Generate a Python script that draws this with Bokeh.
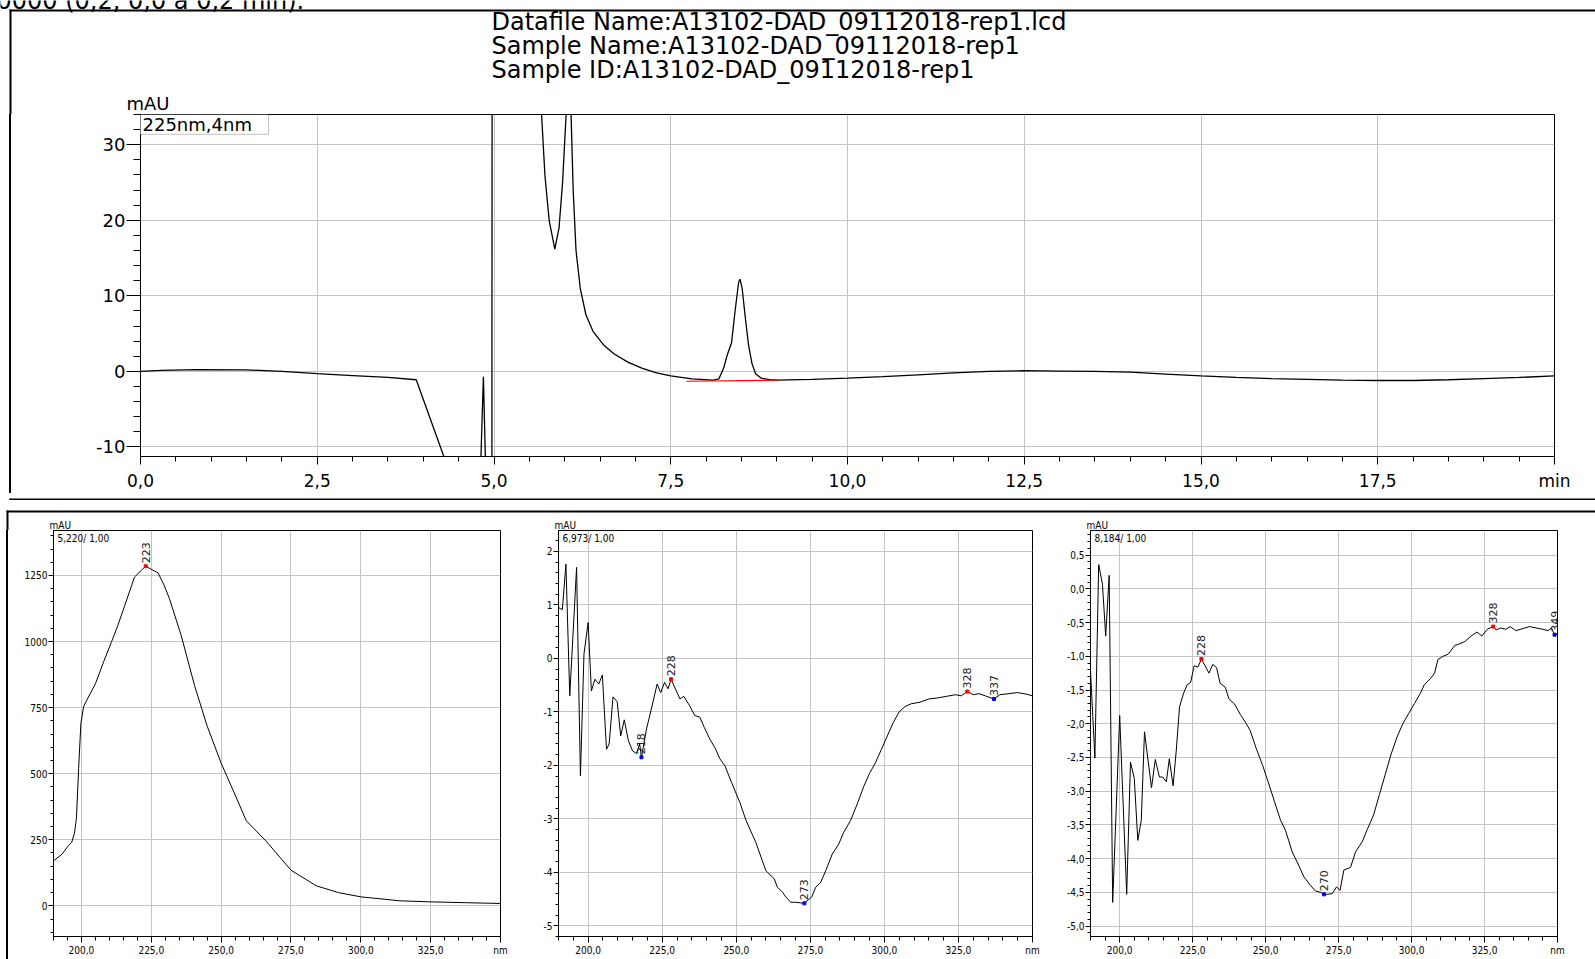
from math import pi
from bokeh.plotting import figure
from bokeh.layouts import column, row
from bokeh.models import Range1d, FixedTicker, CustomJSTickFormatter, Label, PolyAnnotation, Div
from bokeh.core.properties import value
from bokeh.embed import file_html
from bokeh.resources import INLINE

# ---------------- data: chromatogram (225 nm, 4 nm) ----------------
time_min = [0.0, 0.3, 0.8, 1.5, 2.0, 2.5, 3.0, 3.5, 3.9, 4.3,
            4.5, 4.80, 4.85, 4.89, 4.97, 4.995, 5.3, 5.62, 5.67, 5.72,
            5.78, 5.86, 5.92, 5.97, 6.02, 6.055, 6.09, 6.12, 6.16, 6.22,
            6.30, 6.40, 6.55, 6.70, 6.90, 7.10, 7.30, 7.50, 7.80, 8.10,
            8.18, 8.25, 8.30, 8.36, 8.41, 8.46, 8.48, 8.51, 8.55, 8.60,
            8.65, 8.70, 8.78, 8.90, 9.00, 9.50, 10.0, 10.5, 11.0, 11.5,
            12.0, 12.5, 13.0, 13.5, 14.0, 14.5, 15.0, 15.5, 16.0, 16.5,
            17.0, 17.5, 18.0, 18.5, 19.0, 19.5, 20.0]
signal_mau = [0.0, 0.15, 0.25, 0.2, 0.0, -0.3, -0.55, -0.8, -1.1, -11.5,
              -16, -16, -0.7, -16, -16, 400, 400, 45, 34.5, 26,
              20, 16.2, 19, 25, 34, 60, 34, 24, 16, 11,
              7.5, 5.3, 3.5, 2.3, 1.2, 0.4, -0.2, -0.6, -1.0, -1.15,
              -1.0, 0.5, 2.2, 3.8, 8.0, 11.8, 12.2, 11.0, 7.5, 3.5,
              1.0, -0.3, -0.9, -1.1, -1.15, -1.05, -0.9, -0.7, -0.45, -0.2,
              0.0, 0.1, 0.05, 0.0, -0.1, -0.35, -0.6, -0.8, -0.95, -1.05,
              -1.15, -1.2, -1.2, -1.1, -0.95, -0.8, -0.6]
baseline_min = [7.72, 9.02]
baseline_mau = [-1.30, -1.15]

top_x_major = [0, 2.5, 5, 7.5, 10, 12.5, 15, 17.5, 20]
top_x_minor = [i * 0.5 for i in range(41)]
top_y_major = [-10, 0, 10, 20, 30]
top_y_minor = list(range(-10, 35, 2))

# ---------------- data: spectra ----------------
nm1 = [190.0, 193.0, 195.3, 196.5, 197.5, 198.2, 199.0, 199.8, 200.8, 202.5,
       205.0, 208.0, 210.7, 213.0, 215.5, 219.0, 221.4, 223.0, 225.0, 227.4,
       229.5, 231.5, 235.7, 240.5, 245.0, 250.0, 255.0, 259.0, 266.0, 275.0,
       284.0, 292.0, 300.0, 314.0, 325.0, 337.0, 350.0]
mau1 = [170, 195, 227, 240, 275, 330, 520, 690, 755, 790,
        840, 925, 997, 1060, 1136, 1244, 1269, 1285, 1273, 1260,
        1215, 1162, 1023, 833, 680, 540, 420, 322, 246, 135,
        76, 50, 34, 19, 15, 12, 9]
peak_nm1 = [223]
peak_mau1 = [1285]
peak_txt1 = ["223"]
peak_col1 = ["red"]

nm2 = [190.0, 191.3, 192.5, 193.8, 196.1, 197.4, 198.6, 200.0, 201.1, 202.3,
       203.6, 204.8, 206.2, 207.1, 208.4, 209.8, 211.0, 212.2, 213.6, 215.0,
       216.3, 217.4, 218.0, 219.7, 221.2, 223.3, 224.5, 225.8, 227.0, 228.0,
       231.0, 232.3, 234.3, 236.0, 237.7, 239.2, 241.1, 242.8, 244.5, 246.2,
       248.4, 251.2, 253.3, 256.6, 260.0, 262.8, 263.9, 265.6, 266.7, 268.4,
       270.1, 273.0, 274.2, 275.5, 276.8, 278.5, 280.2, 282.4, 284.6, 286.3,
       288.6, 291.0, 293.0, 295.0, 297.0, 299.0, 301.0, 303.0, 305.0, 307.0,
       309.0, 312.0, 315.0, 318.0, 321.0, 324.0, 326.0, 328.0, 330.0, 332.0,
       334.0, 337.0, 339.0, 342.0, 345.0, 348.0, 350.0]
mau2 = [0.95, 0.91, 1.76, -0.70, 1.70, -2.20, 0.08, 0.67, -0.61, -0.39,
        -0.48, -0.31, -1.70, -1.60, -0.72, -0.81, -1.45, -1.15, -1.54, -1.73,
        -1.78, -1.60, -1.85, -1.32, -0.98, -0.48, -0.64, -0.45, -0.57, -0.39,
        -0.76, -0.71, -0.89, -1.07, -1.10, -1.29, -1.51, -1.67, -1.88, -2.01,
        -2.32, -2.69, -3.03, -3.44, -3.97, -4.12, -4.28, -4.37, -4.46, -4.56,
        -4.56, -4.58, -4.52, -4.46, -4.28, -4.19, -3.97, -3.66, -3.47, -3.25,
        -3.03, -2.70, -2.40, -2.15, -1.95, -1.70, -1.45, -1.20, -1.00, -0.90,
        -0.85, -0.82, -0.76, -0.74, -0.71, -0.68, -0.70, -0.62, -0.68, -0.66,
        -0.70, -0.76, -0.68, -0.66, -0.64, -0.67, -0.70]
peak_nm2 = [218.0, 228.0, 273.0, 328.0, 337.0]
peak_mau2 = [-1.85, -0.39, -4.58, -0.62, -0.76]
peak_txt2 = ["218", "228", "273", "328", "337"]
peak_col2 = ["blue", "red", "blue", "red", "blue"]

nm3 = [190.0, 191.5, 192.8, 194.1, 195.2, 196.4, 197.6, 200.0, 202.4, 203.7,
       205.0, 206.2, 207.4, 208.5, 210.9, 212.2, 213.6, 214.7, 216.0, 217.0,
       218.3, 219.4, 220.5, 221.8, 223.1, 224.3, 225.5, 226.8, 228.0, 229.5,
       230.6, 231.9, 233.2, 234.4, 236.2, 237.4, 239.4, 241.3, 243.1, 244.7,
       246.8, 249.0, 251.0, 253.0, 255.1, 256.8, 259.1, 260.8, 263.1, 265.4,
       267.1, 268.8, 270.0, 271.1, 272.8, 274.3, 275.5, 276.8, 279.1, 280.8,
       283.1, 284.8, 287.0, 289.0, 291.0, 293.0, 295.0, 297.0, 299.0, 301.0,
       303.0, 304.4, 306.5, 307.9, 309.0, 310.8, 312.5, 314.8, 316.2, 318.3,
       320.1, 322.4, 324.1, 325.9, 328.0, 329.0, 330.5, 332.3, 333.8, 335.7,
       338.1, 340.4, 342.7, 345.0, 346.8, 347.9, 349.0, 350.0]
mau3 = [-1.21, -2.51, 0.36, 0.07, -0.70, 0.20, -4.65, -1.88, -4.53, -2.57,
        -2.81, -3.73, -3.43, -2.12, -2.95, -2.53, -2.79, -2.79, -2.86, -2.52,
        -2.92, -2.39, -1.75, -1.56, -1.42, -1.39, -1.14, -1.16, -1.04, -1.16,
        -1.25, -1.12, -1.17, -1.40, -1.46, -1.63, -1.71, -1.86, -1.98, -2.10,
        -2.37, -2.62, -2.88, -3.15, -3.43, -3.58, -3.90, -4.05, -4.27, -4.40,
        -4.48, -4.50, -4.53, -4.53, -4.52, -4.42, -4.47, -4.17, -4.13, -3.90,
        -3.75, -3.57, -3.35, -3.05, -2.75, -2.45, -2.20, -2.00, -1.85, -1.70,
        -1.55, -1.42, -1.33, -1.25, -1.05, -1.00, -0.97, -0.84, -0.82, -0.78,
        -0.71, -0.64, -0.70, -0.60, -0.56, -0.61, -0.58, -0.60, -0.56, -0.62,
        -0.59, -0.56, -0.58, -0.60, -0.62, -0.58, -0.68, -0.66]
peak_nm3 = [228.0, 270.0, 328.0, 349.0]
peak_mau3 = [-1.04, -4.53, -0.56, -0.68]
peak_txt3 = ["228", "270", "328", "349"]
peak_col3 = ["red", "blue", "red", "blue"]

spec_x_major = [200, 225, 250, 275, 300, 325, 350]
spec_x_minor = list(range(190, 351, 5))

header_lines = ["Datafile Name:A13102-DAD_09112018-rep1.lcd",
                "Sample Name:A13102-DAD_09112018-rep1",
                "Sample ID:A13102-DAD_09112018-rep1"]
top_cut_text = "0000 (0,2, 0,0 a 0,2 min)."
channel_text = "225nm,4nm"
spec_titles = ["5,220/ 1,00", "6,973/ 1,00", "8,184/ 1,00"]

WIDE = "DejaVu Sans"
NARROW = "Liberation Sans Narrow, DejaVu Sans Condensed, DejaVu Sans"
GRID = "#c4c4c4"
W = 1595


def strip(w, h):
    """A blank figure whose frame is its whole canvas, in pixel-like coordinates."""
    s = figure(width=w, height=h, x_range=Range1d(0, w), y_range=Range1d(h, 0),
               x_axis_type=None, y_axis_type=None, title=None, min_border=0,
               output_backend="svg", toolbar_location=None,
               background_fill_color="white", border_fill_color="white")
    s.outline_line_color = None
    return s


def vrule(w, h, x):
    """A plain block holding one vertical frame rule (keeps plot frames out of it)."""
    html = ('<div style="display:block;width:2px;height:%dpx;background:#000;'
            'margin:0 0 0 %dpx;padding:0;"></div>' % (h, x - 1))
    return Div(text=html, width=w, height=h, margin=0,
               styles={"padding": "0", "margin": "0", "background": "white",
                       "overflow": "hidden", "line-height": "0"})


def rules(s, segs):
    s.segment(x0=[a[0] for a in segs], y0=[a[1] for a in segs],
              x1=[a[2] for a in segs], y1=[a[3] for a in segs],
              line_color="black", line_width=2)


def label(s, x, y, text, font, size, baseline="middle"):
    s.add_layout(Label(x=x, y=y, text=text, text_font=font, text_font_size=size,
                       text_align="left", text_baseline=baseline, text_color="black"))


def style_axis(ax, font, size, tick_out, minor_out, standoff):
    ax.axis_line_color = "black"
    ax.axis_line_width = 1
    ax.major_tick_line_color = "black"
    ax.minor_tick_line_color = "black"
    ax.major_tick_in = 0
    ax.major_tick_out = tick_out
    ax.minor_tick_in = 0
    ax.minor_tick_out = minor_out
    ax.major_label_text_font = font
    ax.major_label_text_font_size = size
    ax.major_label_text_color = "black"
    ax.major_label_standoff = standoff


# ---------------- top area: header strip ----------------
stripA = strip(W, 114)
rules(stripA, [(9, 10, W, 10), (10, 9, 10, 114)])
label(stripA, -4, 0.5, top_cut_text, WIDE, "24px")
for i, line in enumerate(header_lines):
    label(stripA, 491, 21.5 + 24 * i, line, WIDE, "24px")
label(stripA, 126, 103, "mAU", WIDE, "18px")

TOP_H = 379
stripB = vrule(60, TOP_H, 10)

# ---------------- chromatogram ----------------
TX, TY = (0.0, 20.0), (-11.26, 34.0)
top = figure(width=W - 60, height=TOP_H, x_range=Range1d(*TX), y_range=Range1d(*TY),
             title=None, output_backend="svg", toolbar_location=None,
             min_border_left=80, min_border_right=41, min_border_top=0,
             min_border_bottom=TOP_H - 345,
             background_fill_color="white", border_fill_color="white")
top.outline_line_color = "black"
top.xaxis.ticker = FixedTicker(ticks=top_x_major, minor_ticks=top_x_minor)
top.yaxis.ticker = FixedTicker(ticks=top_y_major, minor_ticks=top_y_minor)
top.xaxis.formatter = CustomJSTickFormatter(
    code="return Math.abs(tick - 20) < 1e-9 ? 'min' : tick.toFixed(1).replace('.', ',');")
top.yaxis.formatter = CustomJSTickFormatter(code="return tick.toFixed(0);")
style_axis(top.xaxis[0], WIDE, "17px", 8, 5, 6)
style_axis(top.yaxis[0], WIDE, "18px", 14, 7, 1)
top.xgrid.grid_line_color = GRID
top.ygrid.grid_line_color = GRID
top.line(time_min, signal_mau, line_color="black", line_width=1.3)
top.line(baseline_min, baseline_mau, line_color="red", line_width=1.2)


# channel box at the frame's top-left corner (frame: 1414 x 345 px)
def tcx(px):
    return TX[0] + (px - 140) / 1414 * (TX[1] - TX[0])


def tcy(py):
    return TY[0] + (459 - py) / 345 * (TY[1] - TY[0])


top.add_layout(PolyAnnotation(xs=[tcx(139), tcx(268), tcx(268), tcx(139)],
                              ys=[tcy(114), tcy(114), tcy(134), tcy(134)],
                              fill_color="white", fill_alpha=1.0,
                              line_color="#333333", line_width=1))
top.add_layout(Label(x=tcx(142), y=tcy(124.5), text=channel_text, text_font=WIDE,
                     text_font_size="18px", text_align="left", text_baseline="middle",
                     text_color="black"))

stripC = strip(W, 500 - 114 - TOP_H)
rules(stripC, [(9, 0.5, W, 0.5), (10, 0, 10, 1.5)])

# ---------------- spectra area ----------------
stripD = strip(W, 30)
rules(stripD, [(6, 11, W, 11), (7, 10, 7, 30)])
for x0, txt in [(49, "mAU"), (554, "mAU"), (1086, "mAU")]:
    label(stripD, x0, 24.5, txt, NARROW, "10px")

stripE = vrule(20, 429, 7)

SX = (190.0, 350.0)
FH = 406


def spectrum(width, fl, fr, yr, y_major, y_minor, y_code, nm, mau, pk_nm, pk_mau, pk_txt, pk_col,
             title):
    p = figure(width=width, height=429, x_range=Range1d(*SX), y_range=Range1d(*yr),
               title=None, output_backend="svg", toolbar_location=None,
               min_border_left=fl, min_border_right=width - fr,
               min_border_top=0, min_border_bottom=429 - FH,
               background_fill_color="white", border_fill_color="white")
    p.outline_line_color = "black"
    p.xaxis.ticker = FixedTicker(ticks=spec_x_major, minor_ticks=spec_x_minor)
    p.yaxis.ticker = FixedTicker(ticks=y_major, minor_ticks=y_minor)
    p.xaxis.formatter = CustomJSTickFormatter(
        code="return Math.abs(tick - 350) < 1e-9 ? 'nm' : tick.toFixed(1).replace('.', ',');")
    p.yaxis.formatter = CustomJSTickFormatter(code=y_code)
    style_axis(p.xaxis[0], NARROW, "10px", 6, 4, 2)
    style_axis(p.yaxis[0], NARROW, "10px", 5, 3, 1)
    p.xgrid.grid_line_color = GRID
    p.ygrid.grid_line_color = GRID
    p.line(nm, mau, line_color="black", line_width=1)
    p.scatter(pk_nm, pk_mau, marker="square", size=3, color=pk_col)
    p.text(pk_nm, pk_mau, text=pk_txt, angle=pi / 2, text_align="left",
           text_baseline="middle", y_offset=-3, text_font=value(WIDE),
           text_font_size="11px", text_color="#222222")
    fw = width - fl - (width - fr)
    sx = SX[0] + 4 / fw * (SX[1] - SX[0])
    sy = yr[1] - 8 / FH * (yr[1] - yr[0])
    p.add_layout(Label(x=sx, y=sy, text=title, text_font=NARROW, text_font_size="10px",
                       text_align="left", text_baseline="middle", text_color="black"))
    return p


p1 = spectrum(510, 33, 480, (-116.0, 1420.0), [0, 250, 500, 750, 1000, 1250],
              list(range(-100, 1401, 50)), "return tick.toFixed(0);",
              nm1, mau1, peak_nm1, peak_mau1, peak_txt1, peak_col1, spec_titles[0])
p2 = spectrum(532, 28, 502, (-5.2, 2.39), [-5, -4, -3, -2, -1, 0, 1, 2],
              [round(-5.2 + 0.2 * i, 1) for i in range(39)], "return tick.toFixed(0);",
              nm2, mau2, peak_nm2, peak_mau2, peak_txt2, peak_col2, spec_titles[1])
p3 = spectrum(533, 28, 495, (-5.155, 0.865),
              [-5.0, -4.5, -4.0, -3.5, -3.0, -2.5, -2.0, -1.5, -1.0, -0.5, 0.0, 0.5],
              [round(-5.1 + 0.1 * i, 1) for i in range(60)],
              "return tick.toFixed(1).replace('.', ',');",
              nm3, mau3, peak_nm3, peak_mau3, peak_txt3, peak_col3, spec_titles[2])

layout = column(stripA, row(stripB, top, spacing=0), stripC, stripD,
                row(stripE, p1, p2, p3, spacing=0), spacing=0)
open("out.html", "w").write(file_html(layout, INLINE))
